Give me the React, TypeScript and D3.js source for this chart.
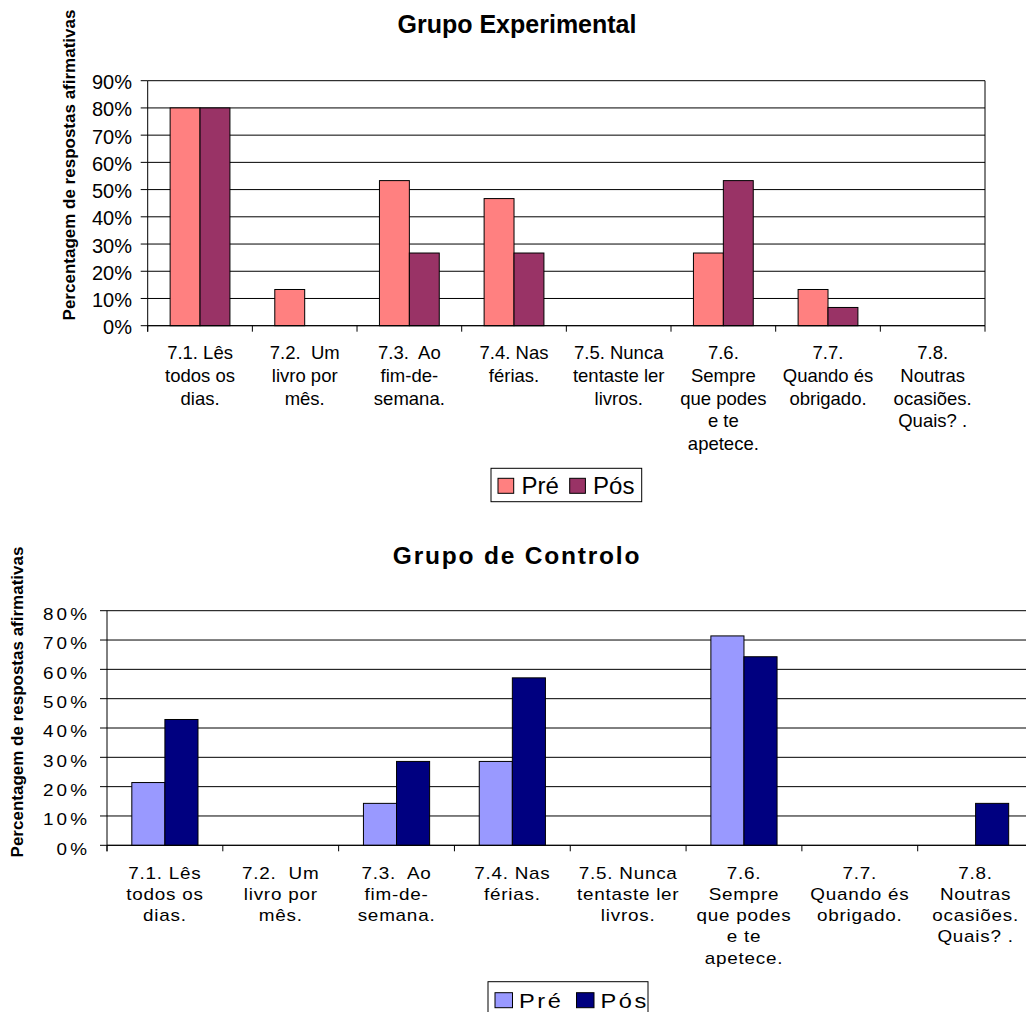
import React from 'react';
import * as d3 from 'd3';

const categories = [
  '7.1. Lês todos os dias.',
  '7.2.  Um livro por mês.',
  '7.3.  Ao fim-de-semana.',
  '7.4. Nas férias.',
  '7.5. Nunca tentaste ler livros.',
  '7.6. Sempre que podes e te apetece.',
  '7.7. Quando és obrigado.',
  '7.8. Noutras ocasiões. Quais? .',
];
const categoryLines = [
  ['7.1. Lês', 'todos os', 'dias.'],
  ['7.2.  Um', 'livro por', 'mês.'],
  ['7.3.  Ao', 'fim-de-', 'semana.'],
  ['7.4. Nas', 'férias.'],
  ['7.5. Nunca', 'tentaste ler', 'livros.'],
  ['7.6.', 'Sempre', 'que podes', 'e te', 'apetece.'],
  ['7.7.', 'Quando és', 'obrigado.'],
  ['7.8.', 'Noutras', 'ocasiões.', 'Quais? .'],
];
const seriesNames = ['Pré', 'Pós'];

const expPre = [80, 13.3, 53.3, 46.7, 0, 26.7, 13.3, 0];
const expPos = [80, 0, 26.7, 26.7, 0, 53.3, 6.7, 0];
const ctlPre = [21.4, 0, 14.3, 28.6, 0, 71.4, 0, 0];
const ctlPos = [42.9, 0, 28.6, 57.1, 0, 64.3, 0, 14.3];

const expTicks = [0, 10, 20, 30, 40, 50, 60, 70, 80, 90];
const ctlTicks = [0, 10, 20, 30, 40, 50, 60, 70, 80];

const expColors = ['#FF8080', '#993366'];
const ctlColors = ['#9999FF', '#000080'];

const FONT = '"Liberation Sans", Arial, Helvetica, sans-serif';
const yTitle = 'Percentagem de respostas afirmativas';

function SText({ x, y, sx = 1, ls = 0, anchor = 'start', size, weight = 'normal', children }: any) {
  return (
    <g transform={`translate(${x},${y}) scale(${sx},1)`}>
      <text
        textAnchor={anchor}
        fontSize={size}
        fontWeight={weight}
        letterSpacing={ls}
        fontFamily={FONT}
        fill="#000"
        style={{ whiteSpace: 'pre' }}
      >
        {children}
      </text>
    </g>
  );
}

function Chart(props: any) {
  const {
    title, titleY, titleSize, titleLs, pre, pos, colors, ticks, yMax,
    x0, x1, yTop, yBottom, tickLabelX, tickLabelDy, tickSize, tickSx, tickLs,
    catY0, catDy, catSize, catSx, catLs, yTitleX, yTitleY,
    legX, legY, legW, legH, legSq, legSqW, legSqDy, legTextDx, legStep, legSize, legSx, legLs, legBaseDy,
  } = props;
  const x = d3.scaleBand<string>().domain(categories).range([x0, x1]).paddingInner(0).paddingOuter(0);
  const inner = d3.scaleBand<string>().domain(seriesNames).range([0, x.bandwidth()]).paddingInner(0).paddingOuter(0.75);
  const y = d3.scaleLinear().domain([0, yMax]).range([yBottom, yTop]);
  const series = [pre, pos];
  const tickPositions = categories.map((c) => x(c) as number).concat([x1]);

  return (
    <g>
      <text x={517} y={titleY} textAnchor="middle" fontSize={titleSize} fontWeight="bold"
        letterSpacing={titleLs} fontFamily={FONT}>{title}</text>
      <text transform={`translate(${yTitleX},${yTitleY}) rotate(-90)`} textAnchor="middle"
        fontSize={17} fontWeight="bold" fontFamily={FONT}>{yTitle}</text>
      {/* gridlines */}
      {ticks.map((t: number) => (
        <line key={'g' + t} x1={x0} x2={x1} y1={y(t)} y2={y(t)} stroke="#000" strokeWidth={1} />
      ))}
      {/* right border */}
      <line x1={x1} x2={x1} y1={y(yMax)} y2={y(0)} stroke="#000" strokeWidth={1} />
      {/* bars */}
      {series.map((vals: number[], si: number) =>
        vals.map((v: number, ci: number) => (
          v > 0 ? (
            <rect key={`b${si}-${ci}`}
              x={(x(categories[ci]) as number) + (inner(seriesNames[si]) as number)}
              y={y(v)} width={inner.bandwidth()} height={y(0) - y(v)}
              fill={colors[si]} stroke="#000" strokeWidth={1} />
          ) : null
        ))
      )}
      {/* axes */}
      <line x1={x0} x2={x0} y1={y(yMax)} y2={y(0) + 6} stroke="#000" strokeWidth={1} />
      <line x1={x0} x2={x1} y1={y(0)} y2={y(0)} stroke="#000" strokeWidth={1} />
      {ticks.map((t: number) => (
        <line key={'yt' + t} x1={x0 - 7} x2={x0} y1={y(t)} y2={y(t)} stroke="#000" strokeWidth={1} />
      ))}
      {tickPositions.map((p: number, i: number) => (
        <line key={'xt' + i} x1={p} x2={p} y1={y(0)} y2={y(0) + 6} stroke="#000" strokeWidth={1} />
      ))}
      {ticks.map((t: number) => (
        <SText key={'tl' + t} x={tickLabelX} y={y(t) + tickLabelDy} sx={tickSx} ls={tickLs}
          anchor="end" size={tickSize}>{`${t}%`}</SText>
      ))}
      {categories.map((c: string, ci: number) =>
        categoryLines[ci].map((ln: string, li: number) => (
          <SText key={`c${ci}-${li}`} x={(x(c) as number) + x.bandwidth() / 2} y={catY0 + li * catDy}
            sx={catSx} ls={catLs} anchor="middle" size={catSize}>{ln}</SText>
        ))
      )}
      {/* legend */}
      <rect x={legX} y={legY} width={legW} height={legH} fill="#fff" stroke="#000" strokeWidth={1} />
      {seriesNames.map((s: string, si: number) => (
        <g key={'l' + s}>
          <rect x={legX + 7 + si * legStep} y={legY + legSqDy} width={legSqW} height={legSq}
            fill={colors[si]} stroke="#000" strokeWidth={1} />
          <SText x={legX + 7 + si * legStep + legTextDx} y={legY + legBaseDy} sx={legSx} ls={legLs}
            size={legSize}>{s}</SText>
        </g>
      ))}
    </g>
  );
}

export default function App() {
  return (
    <svg width={1026} height={1012} style={{ position: 'absolute', left: 0, top: 0, background: '#fff' }}>
      <rect x={0} y={0} width={1026} height={1012} fill="#fff" />
      <Chart
        title="Grupo Experimental" titleY={33} titleSize={25} titleLs={0}
        pre={expPre} pos={expPos} colors={expColors} ticks={expTicks} yMax={90}
        x0={147.7} x1={985} yTop={80.7} yBottom={325.7}
        tickLabelX={132} tickLabelDy={8.5} tickSize={20} tickSx={1} tickLs={0}
        catY0={359.3} catDy={22.6} catSize={18.5} catSx={1} catLs={0}
        yTitleX={75} yTitleY={165}
        legX={491} legY={468.3} legW={150.7} legH={33.4} legSq={15} legSqW={15.7} legSqDy={10}
        legTextDx={23.4} legStep={71.7} legSize={24} legSx={1} legLs={0} legBaseDy={26}
      />
      <Chart
        title="Grupo de Controlo" titleY={564.3} titleSize={24.5} titleLs={1.8}
        pre={ctlPre} pos={ctlPos} colors={ctlColors} ticks={ctlTicks} yMax={80}
        x0={107} x1={1033.5} yTop={610.7} yBottom={845.3}
        tickLabelX={90} tickLabelDy={9.3} tickSize={16} tickSx={1.18} tickLs={2.6}
        catY0={878.5} catDy={21.3} catSize={16} catSx={1.18} catLs={0.65}
        yTitleX={23} yTitleY={702}
        legX={488} legY={981.7} legW={160} legH={40} legSq={15} legSqW={17.5} legSqDy={11}
        legTextDx={24} legStep={81.5} legSize={20} legSx={1.18} legLs={2.2} legBaseDy={26.6}
      />
    </svg>
  );
}
